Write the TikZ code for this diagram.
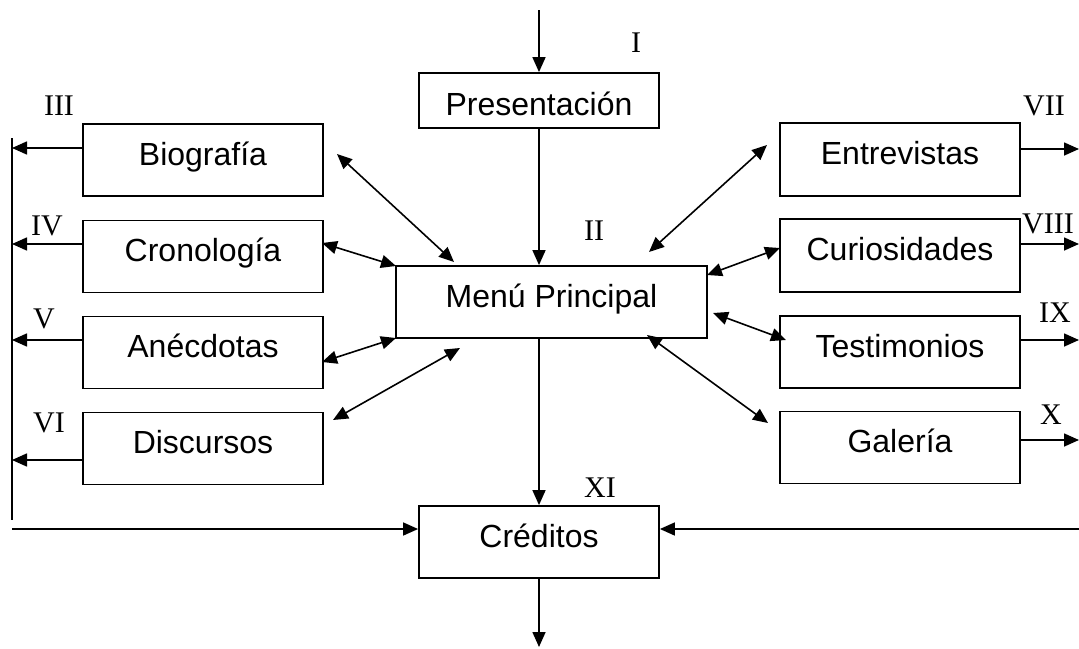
\documentclass[tikz,border=0pt]{standalone}
\usepackage{fontspec}
\setmainfont{Liberation Sans}
\newfontfamily\romfont{Liberation Serif}
\usetikzlibrary{arrows.meta}
\begin{document}
\begin{tikzpicture}[x=1pt,y=-1pt,
  box/.style={draw,line width=1.8pt,minimum width=240pt,minimum height=72pt,
    text height=22pt,text depth=12pt,font=\fontsize{32}{32}\selectfont},
  num/.style={inner sep=0pt,text height=20pt,text depth=0pt,font=\romfont\fontsize{30}{30}\selectfont},
  arr/.style={line width=1.6pt,-{Triangle[length=15pt,width=13pt]}},
  darr/.style={line width=1.6pt,{Triangle[length=15pt,width=13pt]}-{Triangle[length=15pt,width=13pt]}},
  ln/.style={line width=1.6pt}]
\useasboundingbox (0,0) rectangle (1079,648);
% boxes
\node[box,minimum height=55pt,text height=29pt,text depth=0pt] (pres) at (539,100.5) {Presentación};
\node[box,minimum width=311pt] (menu) at (551.5,302) {Menú Principal};
\node[box] (cred) at (539,542) {Créditos};
\node[box] (bio) at (203,160) {Biografía};
\node[box] (cron) at (203,256.5) {Cronología};
\node[box] (anec) at (203,352.5) {Anécdotas};
\node[box] (disc) at (203,448.5) {Discursos};
\node[box,minimum height=73pt] (entr) at (900,159.5) {Entrevistas};
\node[box,minimum height=73pt] (curi) at (900,255.5) {Curiosidades};
\node[box] (test) at (900,352) {Testimonios};
\node[box] (gal) at (900,447.5) {Galería};
% numerals
\node[num] (nI) at (636,42) {I};
\node[num] (nII) at (594,230) {II};
\node[num] (nIII) at (59,105) {III};
\node[num] (nIV) at (47,225) {IV};
\node[num] (nV) at (44,318) {V};
\node[num] (nVI) at (49,422) {VI};
\node[num] (nVII) at (1044,105) {VII};
\node[num] (nVIII) at (1048,223) {VIII};
\node[num] (nIX) at (1055,312) {IX};
\node[num] (nX) at (1051,414) {X};
\node[num] (nXI) at (600,487) {XI};
% free ends
\coordinate (top) at (539,10);
\coordinate (bot) at (539,647);
\coordinate (lbusT) at (12,138);
\coordinate (lbusB) at (12,520);
\coordinate (lin) at (12,529);
\coordinate (rin) at (1079,529);
\coordinate (redge) at (1079,0);
% main flow
\draw[arr] (top) -- (pres.north);
\draw[arr] (pres.south) -- (pres.south |- menu.north);
\draw[arr] (cred.north |- menu.south) -- (cred.north);
\draw[arr] (cred.south) -- (bot);
% left bus
\draw[ln] (lbusT) -- (lbusB);
\draw[arr] ([yshift=12pt]bio.west) -- ([yshift=12pt]bio.west -| lbusT);
\draw[arr] ([yshift=12.5pt]cron.west) -- ([yshift=12.5pt]cron.west -| lbusT);
\draw[arr] ([yshift=12.5pt]anec.west) -- ([yshift=12.5pt]anec.west -| lbusT);
\draw[arr] ([yshift=-11.5pt]disc.west) -- ([yshift=-11.5pt]disc.west -| lbusT);
\draw[arr] (lin) -- (cred.west |- lin);
% right side
\draw[arr] ([yshift=10.5pt]entr.east) -- ([yshift=10.5pt]entr.east -| redge);
\draw[arr] ([yshift=11.5pt]curi.east) -- ([yshift=11.5pt]curi.east -| redge);
\draw[arr] ([yshift=12pt]test.east) -- ([yshift=12pt]test.east -| redge);
\draw[arr] ([yshift=7.5pt]gal.east) -- ([yshift=7.5pt]gal.east -| redge);
\draw[arr] (rin) -- (cred.east |- rin);
% double arrows to menu
\coordinate (a1) at (337,154); \coordinate (b1) at (454,262);
\coordinate (a2) at (322,243); \coordinate (b2) at (396,266);
\coordinate (a3) at (322,362); \coordinate (b3) at (396,338);
\coordinate (a4) at (333,420); \coordinate (b4) at (460,348);
\coordinate (a5) at (767,145); \coordinate (b5) at (649,252);
\coordinate (a6) at (780,248); \coordinate (b6) at (707,275);
\coordinate (a7) at (786,340); \coordinate (b7) at (713,313);
\coordinate (a8) at (768,423); \coordinate (b8) at (647,335);
\foreach \i in {1,...,8} {\draw[darr] (a\i) -- (b\i);}
\end{tikzpicture}
\end{document}
